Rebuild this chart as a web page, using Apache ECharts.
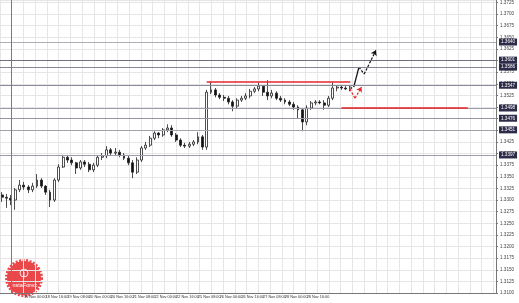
<!DOCTYPE html>
<html><head><meta charset="utf-8">
<script src="https://cdn.jsdelivr.net/npm/echarts@6/dist/echarts.min.js"></script>
<style>html,body{margin:0;padding:0;background:#fff}#c{width:519px;height:303px}</style>
</head><body><div id="c"></div>
<script>
// candles: [open, close, low, high]
const candles = [
[1.3311,1.3306,1.3296,1.3317],[1.3306,1.3304,1.3283,1.3313],[1.3304,1.3300,1.3289,1.3311],[1.3300,1.3322,1.3279,1.3326],
[1.3322,1.3332,1.3317,1.3343],[1.3332,1.3328,1.3322,1.3339],[1.3328,1.3322,1.3315,1.3332],[1.3322,1.3330,1.3317,1.3337],
[1.3330,1.3343,1.3326,1.3356],[1.3343,1.3330,1.3326,1.3347],[1.3330,1.3317,1.3311,1.3332],[1.3317,1.3300,1.3285,1.3322],
[1.3300,1.3343,1.3296,1.3347],[1.3343,1.3371,1.3339,1.3377],[1.3371,1.3392,1.3369,1.3397],[1.3392,1.3386,1.3380,1.3397],
[1.3386,1.3380,1.3375,1.3392],[1.3380,1.3369,1.3356,1.3382],[1.3369,1.3382,1.3365,1.3386],[1.3382,1.3377,1.3371,1.3386],
[1.3377,1.3365,1.3360,1.3382],[1.3365,1.3375,1.3360,1.3380],[1.3375,1.3392,1.3371,1.3397],[1.3392,1.3395,1.3386,1.3401],
[1.3395,1.3408,1.3390,1.3416],[1.3408,1.3401,1.3395,1.3412],[1.3401,1.3403,1.3397,1.3412],[1.3403,1.3397,1.3392,1.3408],
[1.3397,1.3390,1.3386,1.3401],[1.3390,1.3380,1.3375,1.3395],[1.3380,1.3360,1.3347,1.3386],[1.3360,1.3386,1.3356,1.3392],
[1.3386,1.3412,1.3382,1.3416],[1.3412,1.3418,1.3408,1.3425],[1.3418,1.3433,1.3414,1.3438],[1.3433,1.3444,1.3429,1.3448],
[1.3444,1.3440,1.3433,1.3446],[1.3440,1.3451,1.3436,1.3455],[1.3451,1.3455,1.3446,1.3463],[1.3455,1.3440,1.3436,1.3461],
[1.3440,1.3429,1.3425,1.3444],[1.3429,1.3418,1.3414,1.3433],[1.3418,1.3416,1.3412,1.3423],[1.3416,1.3420,1.3412,1.3425],
[1.3420,1.3425,1.3416,1.3429],[1.3425,1.3436,1.3420,1.3446],[1.3436,1.3414,1.3408,1.3440],[1.3414,1.3532,1.3408,1.3537],
[1.3532,1.3537,1.3528,1.3554],[1.3537,1.3526,1.3521,1.3541],[1.3526,1.3521,1.3517,1.3530],[1.3521,1.3519,1.3513,1.3526],
[1.3519,1.3511,1.3506,1.3524],[1.3511,1.3502,1.3491,1.3515],[1.3502,1.3515,1.3498,1.3519],[1.3515,1.3519,1.3511,1.3524],
[1.3519,1.3524,1.3515,1.3530],[1.3524,1.3534,1.3519,1.3539],[1.3534,1.3539,1.3530,1.3543],[1.3539,1.3545,1.3534,1.3552],
[1.3545,1.3532,1.3524,1.3547],[1.3532,1.3524,1.3515,1.3558],[1.3524,1.3530,1.3519,1.3537],[1.3530,1.3519,1.3515,1.3534],
[1.3519,1.3515,1.3511,1.3524],[1.3515,1.3511,1.3506,1.3519],[1.3511,1.3506,1.3502,1.3515],[1.3506,1.3500,1.3494,1.3511],
[1.3500,1.3494,1.3476,1.3504],[1.3494,1.3468,1.3448,1.3498],[1.3468,1.3498,1.3461,1.3504],[1.3498,1.3509,1.3494,1.3513],
[1.3509,1.3511,1.3504,1.3515],[1.3511,1.3509,1.3506,1.3515],[1.3509,1.3504,1.3494,1.3515],[1.3504,1.3519,1.3500,1.3524],
[1.3519,1.3541,1.3515,1.3554],[1.3541,1.3543,1.3534,1.3547],[1.3543,1.3541,1.3537,1.3547],[1.3541,1.3539,1.3537,1.3545],
[1.3539,1.3543,1.3534,1.3547]
];
const slotCount = 114;
const firstDateLabel = '15 Nov 2013';
const timeLabels = ['18 Nov 00:00','18 Nov 16:00','19 Nov 08:00','20 Nov 00:00','20 Nov 16:00','21 Nov 08:00','22 Nov 00:00','22 Nov 16:00','25 Nov 08:00','26 Nov 00:00','26 Nov 16:00','27 Nov 08:00','28 Nov 00:00','28 Nov 16:00','29 Nov 08:00'];
const labelStart = 5, labelStep = 5;
const levels = [1.3640, 1.3601, 1.3586, 1.3547, 1.3498, 1.3476, 1.3451, 1.3397];
const resistance = [[47, 1.3554], [80, 1.3554]];
const support = [[78, 1.3498], [107, 1.3498]];
const upSolid = [[80.8, 1.3543], [82, 1.3586]];
const upDashed = [[82, 1.3586], [83.2, 1.3571]];
const upArrow = [[83.2, 1.3571], [85.9, 1.3622]];
const downDashed = [[79.9, 1.3539], [81.1, 1.3519]];
const downArrow = [[81.1, 1.3519], [82.6, 1.3543]];
const separatorIndex = 2;
const yMin = 1.3100, yMax = 1.3730, yStep = 0.0025;

// styles
const levelColors = ['#aeaeb8','#6e6e7e','#84849a','#8a8a9a','#9c9ca6','#96969f','#a2a2ac','#9c9ca6'];

const cats = [];
for (let i = 0; i < slotCount; i++) cats.push(i);
const sh = p => [p[0] + 0.5, p[1]];

const levelSeries = levels.map((v, i) => ({
  type: 'line', xAxisIndex: 1, data: [], silent: true,
  markLine: {
    silent: true, symbol: 'none', animation: false, precision: 4,
    lineStyle: {color: levelColors[i], width: 1, type: 'solid'},
    label: {show: true, position: 'end', distance: 3, formatter: v.toFixed(4),
      backgroundColor: '#2c2c48', color: '#fff', fontSize: 4.6, padding: [1, 2], fontFamily: 'Liberation Sans'},
    data: [{yAxis: v}]
  }
}));

const chart = echarts.init(document.getElementById('c'), null, {renderer: 'canvas'});
chart.setOption({
  animation: false,
  backgroundColor: '#ffffff',
  grid: {left: 0, right: 23, top: 0, bottom: 10, containLabel: false},
  xAxis: [{
    type: 'category', data: cats, boundaryGap: true,
    axisLine: {show: true, onZero: false, lineStyle: {color: '#777', width: 1}},
    axisTick: {show: false},
    splitLine: {show: false},
    axisLabel: {
      interval: (idx) => idx === 0 || (idx >= labelStart && (idx - labelStart) % labelStep === 0 && (idx - labelStart) / labelStep < timeLabels.length),
      formatter: (v, idx) => {
        const i = Number(v);
        if (i === 0) return '{d|' + firstDateLabel + '}';
        const k = (i - labelStart) / labelStep;
        return timeLabels[k] || '';
      },
      align: 'left', fontSize: 3.8, color: '#333', margin: 2, fontFamily: 'Liberation Sans',
      rich: {d: {backgroundColor: '#3a3a4a', color: '#fff', fontSize: 3.8, padding: [1, 3], fontFamily: 'Liberation Sans'}}
    }
  }, {
    type: 'value', min: 0, max: slotCount, interval: 2.7, show: true,
    axisLine: {show: false, onZero: false}, axisTick: {show: false}, axisLabel: {show: false},
    splitLine: {show: true, lineStyle: {color: '#e6e6e6', width: 1}}
  }],
  yAxis: {
    type: 'value', position: 'right', min: yMin, max: yMax, interval: yStep,
    axisLine: {show: true, onZero: false, lineStyle: {color: '#777'}},
    axisTick: {show: true, length: 2, lineStyle: {color: '#777'}},
    axisLabel: {fontSize: 4.6, color: '#444', margin: 4, showMaxLabel: false, fontFamily: 'Liberation Sans',
      formatter: v => v.toFixed(4)},
    splitLine: {show: true, lineStyle: {color: '#e6e6e6', width: 1}}
  },
  series: [
  ...levelSeries,
  {
    type: 'candlestick',
    data: candles,
    barWidth: 2.4,
    itemStyle: {color: '#ffffff', color0: '#111111', borderColor: '#222222', borderColor0: '#222222', borderWidth: 0.8},
    markLine: {
      silent: true, symbol: 'none', animation: false, label: {show: false}, precision: 4,
      lineStyle: {color: '#e8262a', width: 1.6, type: 'solid'},
      data: [
        [{coord: [separatorIndex, yMin], lineStyle: {color: '#a8608a', width: 1}}, {coord: [separatorIndex, yMax]}],
        [{coord: resistance[0]}, {coord: resistance[1]}],
        [{coord: support[0]}, {coord: support[1]}]
      ]
    }
  }, {
    type: 'line', xAxisIndex: 1, data: upSolid.map(sh), symbol: 'none',
    lineStyle: {color: '#111', width: 1.3}
  }, {
    type: 'line', xAxisIndex: 1, data: upDashed.map(sh), symbol: 'none',
    lineStyle: {color: '#111', width: 1.2, type: [2.5, 1.5]},
    markLine: {silent: true, symbol: ['none', 'arrow'], symbolSize: 5, precision: 4,
      lineStyle: {color: '#111', width: 1.2, type: [2.5, 1.5]}, label: {show: false},
      data: [[{coord: sh(upArrow[0])}, {coord: sh(upArrow[1])}]]}
  }, {
    type: 'line', xAxisIndex: 1, data: downDashed.map(sh), symbol: 'none',
    lineStyle: {color: '#e8262a', width: 1.2, type: [2.5, 1.5]},
    markLine: {silent: true, symbol: ['none', 'arrow'], symbolSize: 5, precision: 4,
      lineStyle: {color: '#e8262a', width: 1.2, type: [2.5, 1.5]}, label: {show: false},
      data: [[{coord: sh(downArrow[0])}, {coord: sh(downArrow[1])}]]}
  }],
  graphic: [{
    type: 'group', left: 4, top: 258, silent: true,
    children: [
      {type: 'circle', shape: {cx: 19, cy: 19, r: 17.5}, style: {fill: 'none', stroke: '#e9474a', lineWidth: 3, lineDash: [2, 1.5]}},
      {type: 'circle', shape: {cx: 19, cy: 19, r: 17}, style: {fill: '#e9474a'}},
      {type: 'circle', shape: {cx: 19, cy: 14, r: 4}, style: {fill: 'none', stroke: '#fbe3e3', lineWidth: 1}},
      {type: 'rect', shape: {x: 18.5, y: 13, width: 1, height: 5}, style: {fill: '#fbe3e3'}},
      {type: 'text', style: {x: 19, y: 26, text: 'InstaForex', fill: '#ffffff', fontSize: 5.5, align: 'center', verticalAlign: 'middle', fontFamily: 'Liberation Sans'}}
    ]
  }]
});
</script></body></html>
